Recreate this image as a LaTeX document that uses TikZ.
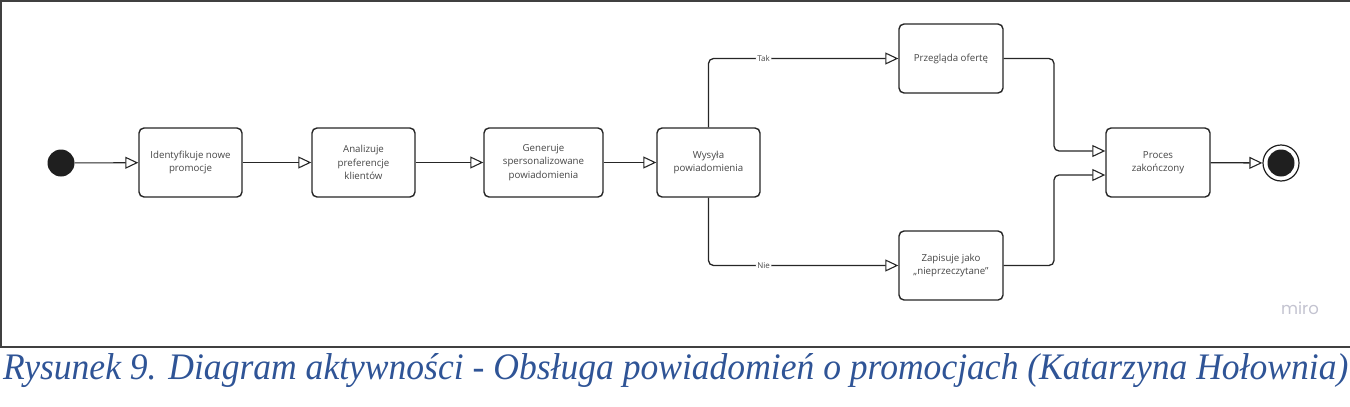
\documentclass[tikz,border=0pt]{standalone}
\usepackage{fontspec}
\setmainfont{Open Sans}
\newfontfamily\capfont{Liberation Serif}
\newfontfamily\mirofont{Poppins}
\usetikzlibrary{arrows.meta}
\definecolor{capblue}{RGB}{47,84,150}
\definecolor{mirogray}{RGB}{195,195,208}
\begin{document}
\begin{tikzpicture}[x=1pt,y=-1pt,
  act/.style={draw=black!85,line width=1.4pt,rounded corners=5pt,fill=white,align=center,
    font=\fontsize{9.7}{13.2}\selectfont,text=black!72,inner sep=0pt},
  conn/.style={draw=black!85,line width=1.3pt,rounded corners=5pt,
    -{Triangle[open,length=13pt,width=12pt,line width=1.1pt]}},
  lbl/.style={fill=white,inner sep=1.5pt,font=\fontsize{8}{9}\selectfont,text=black!72}]
\useasboundingbox (0,0) rectangle (1350,407);
% frame
\draw[black!75,line width=1.6pt] (1350,1) -- (1,1) -- (1,347) -- (1350,347);
% nodes
\node[circle,fill=black!88,minimum size=27pt,inner sep=0pt] (start) at (61,163) {};
\node[act,minimum width=103pt,minimum height=69pt] (a1) at (190.5,162.5) {Identyfikuje nowe\\promocje};
\node[act,minimum width=103pt,minimum height=69pt] (a2) at (363.5,162.5) {Analizuje\\preferencje\\klientów};
\node[act,minimum width=119pt,minimum height=69pt] (a3) at (543.5,162.5) {Generuje\\spersonalizowane\\powiadomienia};
\node[act,minimum width=103pt,minimum height=69pt] (a4) at (708.5,162.5) {Wysyła\\powiadomienia};
\node[act,minimum width=104pt,minimum height=69pt] (a5) at (951,58.5) {Przegląda ofertę};
\node[act,minimum width=104pt,minimum height=69pt] (a6) at (951,265.5) {Zapisuje jako\\„nieprzeczytane”};
\node[act,minimum width=104pt,minimum height=69pt] (a7) at (1158,162.5) {Proces\\zakończony};
\node[circle,draw=black!88,line width=1.2pt,minimum size=36pt,inner sep=0pt] (endo) at (1281,163) {};
\node[circle,fill=black!88,minimum size=27pt,inner sep=0pt] (endi) at (1281,163) {};
% connectors
\draw[conn,line width=1.1pt] (start) -- (a1);
\draw[conn] (a1) -- (a2);
\draw[conn] (a2) -- (a3);
\draw[conn] (a3) -- (a4);
\draw[conn] (a4.north) |- node[lbl,pos=0.645]{Tak} (a5.west);
\draw[conn] (a4.south) |- node[lbl,pos=0.645]{Nie} (a6.west);
\draw[conn] (a5.east) -- (1054,58.5) -- (1054,151) -- ([yshift=11.5pt]a7.west);
\draw[conn] (a6.east) -- (1054,265.5) -- (1054,175) -- ([yshift=-12.5pt]a7.west);
\draw[conn] (a7) -- (endo);
% miro logo
\node[text=mirogray,font=\mirofont\fontsize{16.5}{18}\selectfont] (miro) at (1300,308) {miro};
% caption
\node[anchor=base west,inner sep=0pt,text=capblue] (cap) at (3,379)
  {\resizebox{1345pt}{26pt}{\capfont\itshape Rysunek 9. Diagram aktywności - Obsługa powiadomień o promocjach (Katarzyna Hołownia)}};
\end{tikzpicture}
\end{document}
